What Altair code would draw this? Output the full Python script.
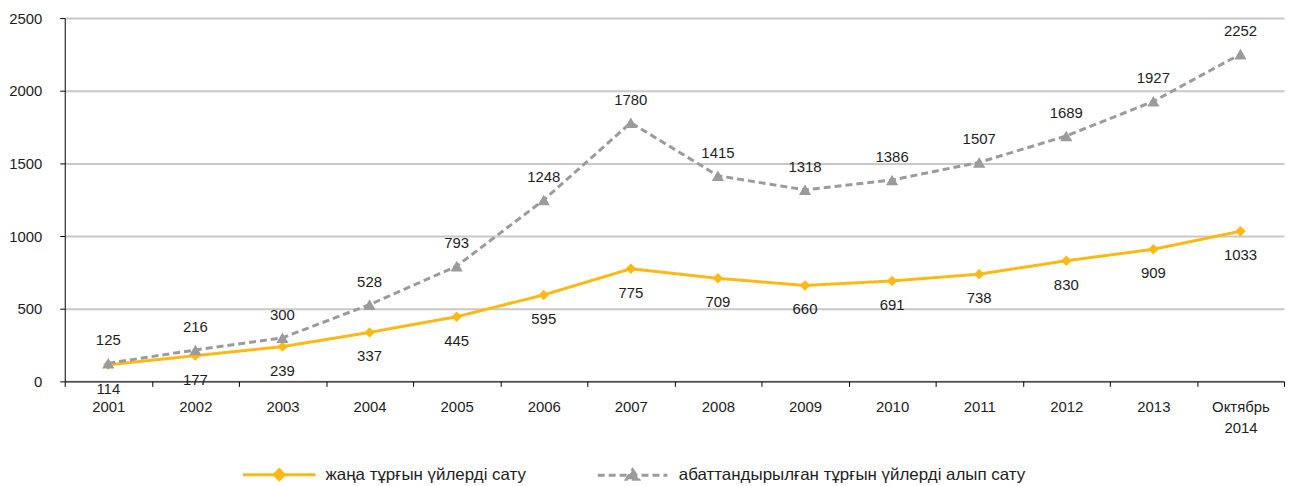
import altair as alt
import pandas as pd

categories = ["2001", "2002", "2003", "2004", "2005", "2006", "2007", "2008",
              "2009", "2010", "2011", "2012", "2013", "Октябрь 2014"]
new_sales = [114, 177, 239, 337, 445, 595, 775, 709, 660, 691, 738, 830, 909, 1033]
resale = [125, 216, 300, 528, 793, 1248, 1780, 1415, 1318, 1386, 1507, 1689, 1927, 2252]
series_names = ["жаңа тұрғын үйлерді сату", "абаттандырылған тұрғын үйлерді алып сату"]
colors = ["#FDB913", "#9B9B9B"]
y_ticks = [0, 500, 1000, 1500, 2000, 2500]

rows = []
for name, vals in zip(series_names, [new_sales, resale]):
    for c, v in zip(categories, vals):
        rows.append({"year": c, "series": name, "value": v})
df = pd.DataFrame(rows)

FONT = "Liberation Sans"
TXT = "#1e1e1e"

x = alt.X(
    "year:N", sort=categories,
    scale=alt.Scale(type="band", paddingInner=0, paddingOuter=0),
    axis=alt.Axis(title=None, labelAngle=0, labelExpr="split(datum.label, ' ')",
                  tickBand="extent", domainColor="#000", tickColor="#000",
                  tickSize=5, labelPadding=13, labelLineHeight=21, grid=False),
)
y = alt.Y(
    "value:Q", scale=alt.Scale(domain=[0, 2500], nice=False),
    axis=alt.Axis(title=None, values=y_ticks, format="d", grid=True, gridColor="#C8C8C8",
                  gridWidth=2, domainColor="#000", tickColor="#000", tickSize=5,
                  labelPadding=18),
)

color_scale = alt.Scale(domain=series_names, range=colors)

first = "datum.value === '" + series_names[0] + "'"
legend = alt.Legend(
    orient="none", legendX=207, legendY=450, direction="horizontal", title=None,
    labelFont=FONT, labelFontSize=17, labelColor=TXT, labelLimit=600, symbolSize=100,
    symbolStrokeWidth=3, columnPadding=65, labelOffset=38, symbolOpacity=1,
    symbolType={"expr": first + " ? 'M-7.3,0L7.3,0M0,-1L1,0L0,1L-1,0Z' : "
                                "'M-7,0L7,0M0,-1.1L1.2,0.8L-1.2,0.8Z'"},
    symbolDash={"expr": first + " ? [1,0] : [6,4]"},
    symbolFillColor={"expr": first + " ? '" + colors[0] + "' : '" + colors[1] + "'"},
    symbolStrokeColor={"expr": first + " ? '" + colors[0] + "' : '" + colors[1] + "'"},
)

base = alt.Chart(df)

lines = base.mark_line(strokeWidth=3).encode(
    x=x, y=y,
    color=alt.Color("series:N", scale=color_scale, legend=legend),
    strokeDash=alt.StrokeDash("series:N",
                              scale=alt.Scale(domain=series_names, range=[[1, 0], [7, 4]]),
                              legend=None),
)

new_df = base.transform_filter(alt.datum.series == series_names[0])
res_df = base.transform_filter(alt.datum.series == series_names[1])

points_new = new_df.mark_point(filled=True, opacity=1, size=110, shape="diamond",
                               color=colors[0]).encode(x=x, y=y)
points_res = res_df.mark_point(filled=True, opacity=1, size=150, shape="triangle-up",
                               color=colors[1]).encode(x=x, y=y)

labels_new = new_df.mark_text(dy=24, font=FONT, fontSize=15, color=TXT).encode(
    x=x, y=y, text=alt.Text("value:Q"))
labels_res = res_df.mark_text(dy=-23, font=FONT, fontSize=15, color=TXT).encode(
    x=x, y=y, text=alt.Text("value:Q"))

chart = alt.layer(lines, points_new, points_res, labels_new, labels_res).properties(
    width=1225, height=365,
    padding={"left": 0, "top": 2, "right": 0, "bottom": 0},
).configure_view(stroke=None).configure_axis(
    labelFont=FONT, labelFontSize=15, labelColor=TXT,
)

chart.save("out.html", embed_options={"renderer": "svg", "actions": False})
